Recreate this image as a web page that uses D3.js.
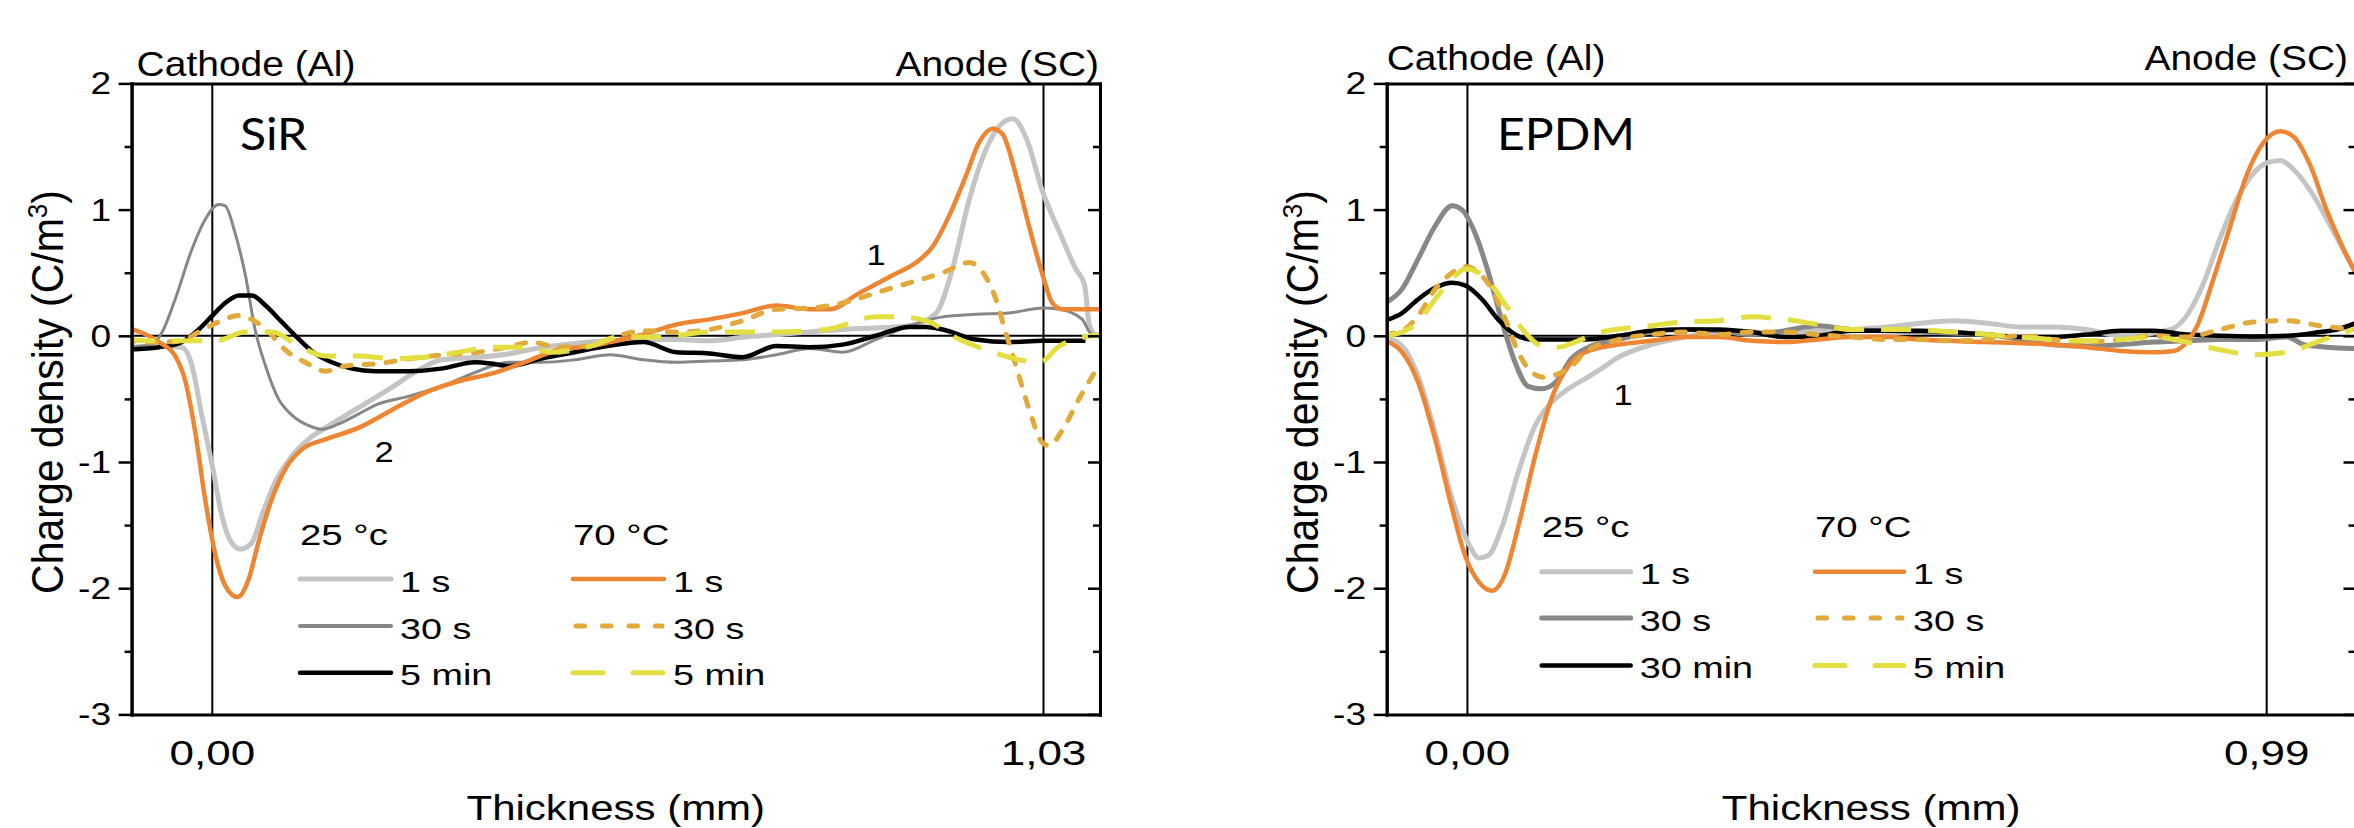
<!DOCTYPE html>
<html>
<head>
<meta charset="utf-8">
<script src="https://cdn.jsdelivr.net/npm/d3@7"></script>
<style>
  body { margin: 0; background: #fff; }
  svg { display: block; }
</style>
</head>
<body>
<svg id="chart" width="2354" height="828"></svg>
<script>
// y ticks shared by both panels
const yTicks = [2, 1, 0, -1, -2, -3];
const yMinorTicks = [1.5, 0.5, -0.5, -1.5, -2.5];

// electrode positions (mm), shown as vertical lines with their labels
const sirMarks = [0, 1.03];
const epdmMarks = [0, 0.99];

const legendHeads = ["25 °c", "70 °C"];
const sirLegend25 = ["1 s", "30 s", "5 min"];
const epdmLegend25 = ["1 s", "30 s", "30 min"];
const legend70 = ["1 s", "30 s", "5 min"];

// SiR profiles, [thickness mm, charge density C/m3]
const sir25_1s = [[-0.10,-0.09],[-0.066,-0.08],[-0.038,-0.09],[-0.025,-0.24],[-0.013,-0.63],[0.0,-1.03],[0.012,-1.43],[0.024,-1.64],[0.035,-1.69],[0.049,-1.64],[0.061,-1.43],[0.078,-1.16],[0.099,-0.95],[0.119,-0.82],[0.14,-0.73],[0.181,-0.57],[0.222,-0.41],[0.251,-0.29],[0.284,-0.19],[0.33,-0.17],[0.37,-0.14],[0.41,-0.09],[0.45,-0.06],[0.49,-0.04],[0.534,-0.03],[0.575,-0.03],[0.616,-0.04],[0.66,-0.01],[0.699,0.01],[0.781,0.05],[0.864,0.08],[0.897,0.18],[0.918,0.55],[0.938,1.08],[0.959,1.48],[0.975,1.66],[0.992,1.72],[1.009,1.56],[1.029,1.14],[1.05,0.82],[1.07,0.53],[1.081,0.40],[1.087,0.08],[1.095,0.0]];
const sir25_30s = [[-0.108,-0.09],[-0.075,-0.07],[-0.062,0.03],[-0.046,0.29],[-0.025,0.69],[-0.009,0.92],[0.008,1.04],[0.016,1.03],[0.028,0.82],[0.041,0.48],[0.053,0.05],[0.066,-0.24],[0.082,-0.50],[0.099,-0.63],[0.119,-0.71],[0.136,-0.74],[0.156,-0.70],[0.181,-0.62],[0.206,-0.54],[0.243,-0.48],[0.284,-0.40],[0.326,-0.29],[0.367,-0.21],[0.408,-0.21],[0.449,-0.19],[0.493,-0.15],[0.534,-0.19],[0.575,-0.21],[0.616,-0.20],[0.657,-0.19],[0.699,-0.15],[0.74,-0.10],[0.781,-0.13],[0.822,-0.03],[0.864,0.08],[0.905,0.15],[0.946,0.17],[0.987,0.18],[1.029,0.22],[1.05,0.21],[1.078,0.13],[1.087,0.03],[1.095,0.0]];
const sir25_5min = [[-0.108,-0.11],[-0.066,-0.09],[-0.038,-0.05],[-0.017,0.05],[0.0,0.16],[0.016,0.26],[0.033,0.32],[0.049,0.32],[0.066,0.24],[0.086,0.11],[0.103,0.0],[0.123,-0.12],[0.148,-0.21],[0.173,-0.26],[0.202,-0.28],[0.243,-0.28],[0.284,-0.26],[0.326,-0.21],[0.346,-0.22],[0.367,-0.24],[0.408,-0.18],[0.449,-0.13],[0.491,-0.08],[0.534,-0.05],[0.575,-0.13],[0.616,-0.14],[0.657,-0.17],[0.699,-0.08],[0.74,-0.09],[0.781,-0.07],[0.822,0.0],[0.864,0.07],[0.884,0.07],[0.905,0.05],[0.946,-0.03],[0.987,-0.05],[1.029,-0.04],[1.082,-0.04]];
const sir70_1s = [[-0.108,0.07],[-0.066,-0.05],[-0.046,-0.16],[-0.033,-0.37],[-0.021,-0.77],[-0.009,-1.29],[0.004,-1.74],[0.016,-1.98],[0.031,-2.07],[0.045,-1.93],[0.057,-1.64],[0.074,-1.29],[0.09,-1.06],[0.111,-0.90],[0.14,-0.82],[0.181,-0.73],[0.222,-0.59],[0.264,-0.45],[0.305,-0.36],[0.346,-0.30],[0.387,-0.21],[0.429,-0.11],[0.47,-0.08],[0.493,-0.05],[0.534,0.01],[0.575,0.09],[0.616,0.13],[0.657,0.18],[0.699,0.24],[0.74,0.21],[0.765,0.21],[0.802,0.34],[0.843,0.48],[0.872,0.58],[0.893,0.71],[0.913,0.95],[0.934,1.27],[0.95,1.53],[0.967,1.64],[0.979,1.60],[0.996,1.27],[1.012,0.87],[1.029,0.48],[1.041,0.26],[1.054,0.21],[1.07,0.21],[1.1,0.21]];
const sir70_30s = [[-0.108,-0.04],[-0.066,-0.05],[-0.038,-0.04],[-0.017,0.03],[0.008,0.11],[0.033,0.16],[0.049,0.13],[0.07,0.03],[0.09,-0.11],[0.115,-0.21],[0.14,-0.28],[0.165,-0.24],[0.206,-0.22],[0.247,-0.18],[0.288,-0.15],[0.33,-0.13],[0.371,-0.08],[0.396,-0.05],[0.429,-0.09],[0.47,-0.08],[0.503,0.0],[0.534,0.04],[0.575,0.03],[0.616,0.05],[0.657,0.12],[0.699,0.21],[0.74,0.22],[0.781,0.26],[0.822,0.34],[0.864,0.42],[0.905,0.50],[0.938,0.58],[0.955,0.50],[0.971,0.29],[0.983,0.03],[0.996,-0.24],[1.012,-0.58],[1.029,-0.85],[1.037,-0.87],[1.054,-0.74],[1.074,-0.50],[1.1,-0.22]];
const sir70_5min = [[-0.108,-0.03],[-0.066,-0.04],[-0.025,-0.04],[0.004,-0.04],[0.041,0.03],[0.074,0.03],[0.107,-0.08],[0.14,-0.16],[0.181,-0.16],[0.222,-0.18],[0.264,-0.17],[0.305,-0.13],[0.346,-0.09],[0.387,-0.09],[0.42,-0.13],[0.47,-0.08],[0.503,-0.01],[0.555,-0.01],[0.616,0.03],[0.699,0.03],[0.761,0.05],[0.822,0.15],[0.851,0.15],[0.884,0.12],[0.926,-0.03],[0.967,-0.13],[0.987,-0.17],[1.025,-0.21],[1.05,-0.08],[1.1,0.01]];

// EPDM profiles
const epdm25_1s = [[-0.102,-0.01],[-0.081,-0.08],[-0.061,-0.32],[-0.04,-0.77],[-0.019,-1.29],[0.001,-1.64],[0.014,-1.76],[0.026,-1.74],[0.042,-1.53],[0.063,-1.08],[0.084,-0.71],[0.104,-0.53],[0.125,-0.42],[0.146,-0.34],[0.166,-0.26],[0.187,-0.17],[0.228,-0.07],[0.269,-0.01],[0.311,0.03],[0.352,0.03],[0.393,0.02],[0.434,0.04],[0.476,0.05],[0.52,0.07],[0.561,0.10],[0.602,0.12],[0.644,0.10],[0.685,0.07],[0.726,0.07],[0.767,0.05],[0.809,0.0],[0.871,0.05],[0.891,0.16],[0.912,0.42],[0.932,0.77],[0.953,1.08],[0.974,1.29],[0.99,1.37],[1.007,1.39],[1.023,1.32],[1.048,1.11],[1.069,0.87],[1.089,0.63],[1.1,0.5]];
const epdm25_30s = [[-0.102,0.26],[-0.081,0.37],[-0.061,0.61],[-0.04,0.87],[-0.019,1.03],[-0.007,1.0],[0.009,0.82],[0.026,0.5],[0.042,0.13],[0.059,-0.21],[0.075,-0.40],[0.092,-0.42],[0.109,-0.37],[0.129,-0.18],[0.154,-0.08],[0.187,-0.03],[0.228,0.03],[0.269,0.05],[0.311,0.04],[0.352,0.01],[0.393,0.04],[0.434,0.08],[0.476,0.05],[0.52,0.04],[0.561,0.03],[0.644,0.01],[0.726,-0.07],[0.767,-0.08],[0.809,-0.07],[0.85,-0.05],[0.891,-0.04],[0.932,-0.03],[0.974,-0.03],[1.015,-0.01],[1.036,-0.07],[1.064,-0.09],[1.1,-0.1]];
const epdm25_30min = [[-0.102,0.12],[-0.081,0.18],[-0.061,0.29],[-0.04,0.38],[-0.019,0.42],[-0.003,0.40],[0.018,0.29],[0.038,0.13],[0.059,0.01],[0.08,-0.03],[0.104,-0.03],[0.146,-0.03],[0.187,0.0],[0.228,0.04],[0.269,0.05],[0.311,0.05],[0.352,0.03],[0.393,-0.01],[0.434,0.0],[0.476,0.04],[0.52,0.04],[0.561,0.04],[0.644,0.01],[0.685,-0.01],[0.726,-0.01],[0.767,0.01],[0.809,0.04],[0.85,0.04],[0.891,0.01],[0.932,0.0],[0.974,-0.005],[1.015,0.0],[1.056,0.03],[1.077,0.05],[1.1,0.1]];
const epdm70_1s = [[-0.102,-0.04],[-0.081,-0.13],[-0.061,-0.37],[-0.04,-0.82],[-0.019,-1.37],[-0.003,-1.74],[0.014,-1.95],[0.03,-2.02],[0.047,-1.88],[0.063,-1.51],[0.084,-0.95],[0.104,-0.5],[0.125,-0.24],[0.146,-0.13],[0.187,-0.07],[0.228,-0.04],[0.269,-0.01],[0.311,-0.01],[0.352,-0.04],[0.393,-0.05],[0.434,-0.03],[0.476,-0.01],[0.52,-0.01],[0.561,-0.03],[0.644,-0.05],[0.726,-0.07],[0.767,-0.09],[0.809,-0.12],[0.85,-0.13],[0.875,-0.12],[0.891,-0.05],[0.904,0.08],[0.924,0.45],[0.945,0.87],[0.965,1.27],[0.986,1.53],[1.007,1.62],[1.023,1.58],[1.044,1.35],[1.064,1.0],[1.085,0.69],[1.1,0.5]];
const epdm70_30s = [[-0.102,0.01],[-0.081,0.04],[-0.061,0.16],[-0.04,0.37],[-0.019,0.5],[-0.003,0.55],[0.014,0.5],[0.03,0.37],[0.047,0.13],[0.063,-0.13],[0.08,-0.29],[0.096,-0.33],[0.113,-0.3],[0.129,-0.24],[0.146,-0.13],[0.187,-0.03],[0.228,0.01],[0.269,0.03],[0.311,0.01],[0.352,0.03],[0.393,0.03],[0.434,0.01],[0.476,-0.01],[0.52,-0.03],[0.561,-0.03],[0.602,-0.04],[0.644,-0.03],[0.685,0.0],[0.726,-0.03],[0.767,-0.05],[0.809,-0.03],[0.85,0.0],[0.891,-0.01],[0.932,0.05],[0.974,0.11],[1.015,0.12],[1.056,0.08],[1.1,0.05]];
const epdm70_5min = [[-0.102,0.0],[-0.081,0.03],[-0.061,0.11],[-0.04,0.29],[-0.019,0.45],[-0.003,0.53],[0.014,0.5],[0.03,0.4],[0.051,0.21],[0.071,0.03],[0.092,-0.08],[0.113,-0.09],[0.137,-0.04],[0.166,0.03],[0.228,0.08],[0.269,0.11],[0.311,0.12],[0.352,0.15],[0.393,0.13],[0.434,0.09],[0.476,0.05],[0.54,0.05],[0.602,0.03],[0.664,0.0],[0.726,-0.03],[0.767,-0.04],[0.809,-0.03],[0.85,-0.01],[0.891,-0.05],[0.932,-0.11],[0.974,-0.15],[1.015,-0.13],[1.056,-0.04],[1.097,0.05]];

const FONT = "'Liberation Sans', Arial, Helvetica, sans-serif";
const PLOT_TOP = 83.4, PLOT_BOTTOM = 714.4;

// line looks, in legend order (25 °C column, then 70 °C column)
const styles25 = [
    { color: "#c4c4c4", width: 5 },
    { color: "#878787", width: 3 },
    { color: "#000000", width: 4.5 }
];
const styles70 = [
    { color: "#ee8532", width: 4.5 },
    { color: "#e1aa3a", width: 5, dash: "9,13", legendDash: "8.5,18", cap: "round" },
    { color: "#e4df40", width: 5, dash: "30,17", legendDash: "30,30" }
];

const panels = [
    {
        name: "SiR", left: 131.6, right: 1100, marks: sirMarks, topBase: 75.5,
        nameX: 240, nameY: 149.5,
        curves25: [sir25_1s, sir25_30s, sir25_5min], curves70: [sir70_1s, sir70_30s, sir70_5min],
        legend25: sirLegend25, midWidth: 3,
        legend: { x1: 300, x2: 573, w: 91, headY: 545, rows: [579, 626, 672.7] },
        notes: [{ t: "2", x: 384, y: 461.5 }, { t: "1", x: 876, y: 265 }]
    },
    {
        name: "EPDM", left: 1386.7, right: 2355.5, marks: epdmMarks, topBase: 70,
        nameX: 1497, nameY: 150,
        curves25: [epdm25_1s, epdm25_30s, epdm25_30min], curves70: [epdm70_1s, epdm70_30s, epdm70_5min],
        legend25: epdmLegend25, midWidth: 5,
        legend: { x1: 1541.7, x2: 1815, w: 89, headY: 537, rows: [571.7, 618, 665.5] },
        notes: [{ t: "1", x: 1623, y: 405 }]
    }
];

const svg = d3.select("#chart");
svg.append("rect").attr("width", 2354).attr("height", 828).attr("fill", "#fff");

// text in the source figure is wider than it is tall, so stretch it horizontally
function addText(g, x, y, txt, size, anchor, sx, family) {
    return g.append("text")
        .attr("transform", `translate(${x},${y}) scale(${sx},1)`)
        .attr("text-anchor", anchor)
        .attr("font-family", family || FONT)
        .attr("font-size", size)
        .attr("fill", "#000")
        .text(txt);
}

function drawPanel(p, i) {
    const x = d3.scaleLinear().domain([-0.1, 1.1]).range([p.left, p.right]);
    const y = d3.scaleLinear().domain([-3, 2]).range([PLOT_BOTTOM, PLOT_TOP]);
    const g = svg.append("g");

    g.append("clipPath").attr("id", "clip" + i)
        .append("rect")
        .attr("x", p.left).attr("y", PLOT_TOP)
        .attr("width", p.right - p.left).attr("height", PLOT_BOTTOM - PLOT_TOP);

    // zero line and electrode lines
    g.append("line")
        .attr("x1", x(-0.1)).attr("x2", x(1.1))
        .attr("y1", y(0)).attr("y2", y(0))
        .attr("stroke", "#000").attr("stroke-width", 2);
    g.selectAll(".mark").data(p.marks).join("line")
        .attr("x1", d => x(d)).attr("x2", d => x(d))
        .attr("y1", PLOT_TOP).attr("y2", PLOT_BOTTOM)
        .attr("stroke", "#000").attr("stroke-width", 2);

    const line = d3.line()
        .x(d => x(d[0]))
        .y(d => y(d[1]))
        .curve(d3.curveMonotoneX);

    const curves = g.append("g").attr("clip-path", `url(#clip${i})`);
    const series = [];
    p.curves25.forEach((c, k) => series.push({ data: c, st: styles25[k] }));
    p.curves70.forEach((c, k) => series.push({ data: c, st: styles70[k] }));
    series.forEach(s => {
        const w = s.st === styles25[1] ? p.midWidth : s.st.width;
        curves.append("path")
            .datum(s.data)
            .attr("d", line)
            .attr("fill", "none")
            .attr("stroke", s.st.color)
            .attr("stroke-width", w)
            .attr("stroke-linecap", s.st.cap || "butt")
            .attr("stroke-linejoin", "round")
            .attr("stroke-dasharray", s.st.dash || null);
    });

    // frame: left axis with outward ticks, right axis with inward ticks
    const axisLeft = g.append("g").attr("transform", `translate(${p.left},0)`)
        .call(d3.axisLeft(y).tickValues(yTicks).tickSize(13).tickSizeOuter(0).tickFormat(""));
    const minorLeft = g.append("g").attr("transform", `translate(${p.left},0)`)
        .call(d3.axisLeft(y).tickValues(yMinorTicks).tickSize(7).tickSizeOuter(0).tickFormat(""));
    const axisRight = g.append("g").attr("transform", `translate(${p.right},0)`)
        .call(d3.axisRight(y).tickValues(yTicks).tickSize(-12).tickSizeOuter(0).tickFormat(""));
    const minorRight = g.append("g").attr("transform", `translate(${p.right},0)`)
        .call(d3.axisRight(y).tickValues(yMinorTicks).tickSize(-7).tickSizeOuter(0).tickFormat(""));
    const axisTop = g.append("g").attr("transform", `translate(0,${PLOT_TOP})`)
        .call(d3.axisTop(x).tickValues([]).tickSizeOuter(0));
    const axisBottom = g.append("g").attr("transform", `translate(0,${PLOT_BOTTOM})`)
        .call(d3.axisBottom(x).tickValues([]).tickSizeOuter(0));
    [axisLeft, minorLeft, axisRight, minorRight, axisTop, axisBottom].forEach(a => {
        a.select(".domain").attr("stroke-width", 3).attr("stroke-linecap", "square");
        a.selectAll(".tick line").attr("stroke-width", 2.5);
    });

    // tick labels
    yTicks.forEach(v => addText(g, p.left - 20.5, y(v) + 11, String(v), 31, "end", 1.2));
    p.marks.forEach(m => addText(g, x(m), 764.5, d3.format(".2f")(m).replace(".", ","), 35.5, "middle", 1.24));

    // axis titles
    addText(g, (p.left + p.right) / 2, 820, "Thickness (mm)", 35, "middle", 1.2);
    const yt = g.append("text")
        .attr("transform", `translate(${p.left - 68.3},392) scale(1.07,1) rotate(-90)`)
        .attr("text-anchor", "middle")
        .attr("font-family", FONT)
        .attr("font-size", 41);
    yt.append("tspan").text("Charge density (C/m");
    yt.append("tspan").attr("font-size", 26).attr("dy", -15).text("3");
    yt.append("tspan").attr("dy", 15).text(")");

    // electrode names above the frame
    addText(g, p.left + (i === 0 ? 5 : 0), p.topBase, "Cathode (Al)", 34.5, "start", 1.13);
    addText(g, Math.min(p.right - 1, 2348), p.topBase, "Anode (SC)", 34.5, "end", 1.13);

    // material name and peak numbers
    addText(g, p.nameX, p.nameY, p.name, 45, "start", 1.07, "Lato, 'Open Sans', sans-serif");
    p.notes.forEach(n => addText(g, n.x, n.y, n.t, 30, "middle", 1.15));

    // legend: two columns, 25 °C and 70 °C
    const lg = p.legend;
    const cols = [
        { x: lg.x1, head: legendHeads[0], names: p.legend25, st: styles25 },
        { x: lg.x2, head: legendHeads[1], names: legend70, st: styles70 }
    ];
    cols.forEach(c => {
        addText(g, c.x, lg.headY, c.head, 29.5, "start", 1.3);
        c.names.forEach((nm, k) => {
            const st = c.st[k];
            const w = st === styles25[1] ? Math.min(p.midWidth + 1, 5) : st.width;
            g.append("line")
                .attr("x1", c.x + (st.cap ? 3 : 0)).attr("x2", c.x + lg.w - (st.cap ? 2 : 0))
                .attr("y1", lg.rows[k]).attr("y2", lg.rows[k])
                .attr("stroke", st.color)
                .attr("stroke-width", w)
                .attr("stroke-linecap", st.cap || "round")
                .attr("stroke-dasharray", st.legendDash || null);
            addText(g, c.x + lg.w + 9, lg.rows[k] + 12.5, nm, 29.5, "start", 1.28);
        });
    });
}

panels.forEach(drawPanel);
</script>
</body>
</html>
